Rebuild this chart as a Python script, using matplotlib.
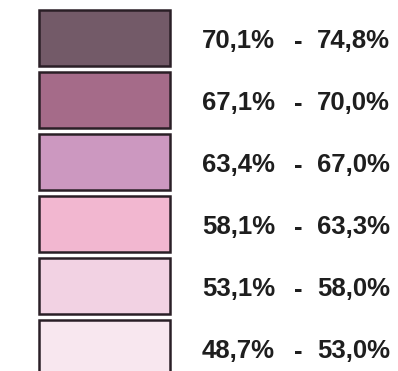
import matplotlib
matplotlib.use("Agg")
import matplotlib.pyplot as plt
from matplotlib.patches import Rectangle
from matplotlib import font_manager as fm

# Legend classes (top = highest share)
lower = ["70,1%", "67,1%", "63,4%", "58,1%", "53,1%", "48,7%"]
upper = ["74,8%", "70,0%", "67,0%", "63,3%", "58,0%", "53,0%"]
colors = ["#735a68", "#a56b89", "#cc98c0", "#f2b7d0", "#f2d2e3", "#f8e7ef"]

# Regular-width bold sans face
bold_path = None
for f in fm.fontManager.ttflist:
    if f.name == "Liberation Sans" and f.weight in (700, "bold") and f.style == "normal":
        bold_path = f.fname
        break
label_font = fm.FontProperties(fname=bold_path, size=18.5) if bold_path else \
    fm.FontProperties(family="DejaVu Sans", weight="bold", size=17)

W, H = 398, 371
fig = plt.figure(figsize=(W / 100, H / 100), dpi=100)
ax = fig.add_axes([0, 0, 1, 1])
ax.set_xlim(0, W)
ax.set_ylim(H, 0)
ax.axis("off")

x0, box_w, box_h = 38.5, 131, 56
y_first, pitch = 10, 62

for i, (lo, hi, c) in enumerate(zip(lower, upper, colors)):
    y = y_first + i * pitch
    ax.add_patch(Rectangle((x0, y), box_w, box_h, facecolor=c,
                           edgecolor="#2a1f26", linewidth=1.8))
    base = y + 38.5
    ax.text(202, base, lo, ha="left", va="baseline",
            fontproperties=label_font, color="#1e1e1e")
    ax.text(298, base, "-", ha="center", va="baseline",
            fontproperties=label_font, color="#1e1e1e")
    ax.text(390, base, hi, ha="right", va="baseline",
            fontproperties=label_font, color="#1e1e1e")

fig.savefig("out.png", dpi=100)
